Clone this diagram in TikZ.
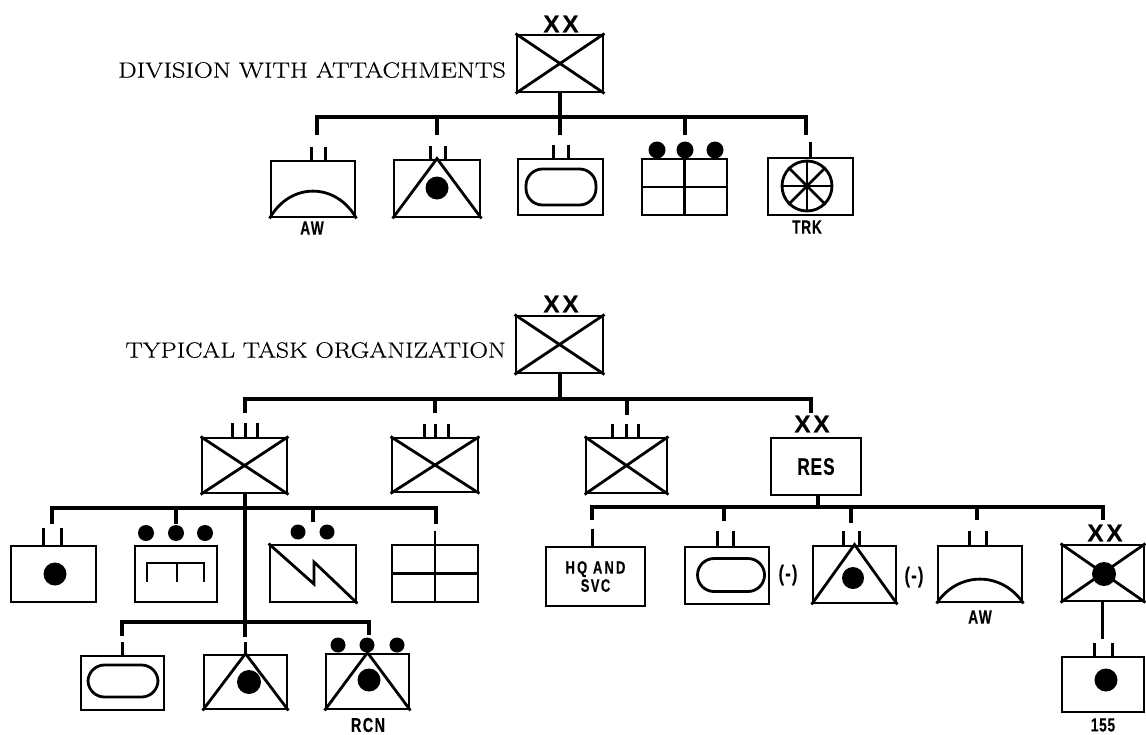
\documentclass[tikz,border=0pt]{standalone}
\usepackage{fontspec}
\newfontfamily\labfont{Liberation Sans}[FakeBold=0.3]
\newfontfamily\ttlfont{Latin Modern Roman}[FakeBold=0.5]
\newcommand\lab[2][19]{\scalebox{.72}[1]{\fontsize{#1}{#1}\selectfont\labfont\bfseries #2}}
\newcommand\ttl[2]{\scalebox{#1}[1]{\fontsize{22}{24}\selectfont\ttlfont #2}}
\tikzset{
  ubox/.style={draw,line width=2.9pt,inner sep=0pt,fill=white},
  sym/.style={line width=2.8pt},
  tick/.style={line width=3pt},
  bus/.style={line width=4pt,line join=miter},
  pill/.style={draw,line width=2.8pt,rounded corners=16.5pt,inner sep=0pt},
  spot/.style={circle,fill=black,inner sep=0pt},
  title/.style={inner sep=0pt,anchor=east},
  echelon/.style={inner sep=0pt,font=\fontsize{24}{24}\selectfont\labfont\bfseries},
  tag/.style={inner sep=0pt}
}
\newcommand\ubx[5]{\node[ubox,minimum width={(#4-#2)*1pt},minimum height={(#5-#3)*1pt}] (#1) at ({(#2+#4)/2},{(#3+#5)/2}) {};}
\newcommand\crossx[1]{\draw[sym] (#1.north west) -- (#1.south east) (#1.north east) -- (#1.south west);}
\newcommand\tri[1]{\draw[sym] (#1.south west) -- (#1.north) -- (#1.south east);}
\newcommand\grid[1]{\draw[sym] (#1.west) -- (#1.east);}
\newcommand\tk[3]{\draw[tick] (#1.north) ++(#2,0) -- ++(0,-#3);}
\newcommand\spotat[3]{\node[spot,minimum size={#3*2pt}] at (#1,#2) {};}
\begin{document}
\begin{tikzpicture}[x=1pt,y=-1pt]
\useasboundingbox (0,0) rectangle (1146,734);
% ---------- top chart
\ubx{div}{517}{35}{603}{92}
\crossx{div}
\node[echelon] (xxa) at (561,24) {X\kern3pt X};
\node[title] (ta) at (506,70) {\ttl{1.19}{DIVISION WITH ATTACHMENTS}};
\coordinate (j0) at (560,117);
\coordinate (a1) at (317,135);
\coordinate (a2) at (437,135);
\coordinate (a3) at (560,135);
\coordinate (a4) at (685,135);
\coordinate (a5) at (806,135);
\draw[bus] (div.south) -- (a3);
\draw[bus] (a1) |- (j0);
\draw[bus] (a2) |- (j0);
\draw[bus] (a4) |- (j0);
\draw[bus] (a5) |- (j0);
% AW
\ubx{t1}{271}{161}{355}{217}
\tk{t1}{-2}{13}\tk{t1}{12}{13}
\draw[sym] (t1.south west) .. controls (290,182) and (336,182) .. (t1.south east);
\node[tag] (t1l) at (312,228) {\lab{A\kern1pt W}};
% mech inf
\ubx{t2}{394}{160}{480}{217}
\tk{t2}{-7}{13}\tk{t2}{8}{13}
\tri{t2}
\spotat{437}{188}{11.5}
% armor
\ubx{t3}{518}{159}{603}{215}
\tk{t3}{-7}{13}\tk{t3}{8}{13}
\node[pill,minimum width=70pt,minimum height=36pt] (t3i) at (561,187) {};
% grid
\ubx{t4}{642}{159}{727}{215}
\grid{t4}
\draw[sym] (t4.north) -- (t4.south);
\spotat{657}{150}{8.5}\spotat{685}{150}{8.5}\spotat{715}{150}{8.5}
% truck
\ubx{t5}{768}{158}{853}{215}
\draw[tick] (t5.north) -- ++(0,-15);
\node[draw,circle,line width=2.8pt,minimum size=50pt,inner sep=0pt] (wh) at (807,186) {};
\foreach \ang in {0,45,...,135}{\draw[line width=2.6pt] (wh.\ang) -- (wh.{\ang+180});}
\node[tag] (t5l) at (807,227) {\lab{T\kern1pt R\kern1pt K}};
% ---------- lower chart
\ubx{dvb}{516}{316}{603}{373}
\crossx{dvb}
\node[echelon] (xxb) at (561,304) {X\kern3pt X};
\node[title] (tb) at (506,350) {\ttl{1.17}{TYPICAL TASK ORGANIZATION}};
\coordinate (j1) at (560,399);
\coordinate (b1) at (245,413);
\coordinate (b2) at (435,413);
\coordinate (b3) at (627,415);
\coordinate (b4) at (811,413);
\draw[bus] (dvb.south -| j1) -- (j1);
\draw[bus] (b1) |- (j1);
\draw[bus] (b2) |- (j1);
\draw[bus] (b3) |- (j1);
\draw[bus] (b4) |- (j1);
% brigades
\ubx{bA}{202}{438}{287}{493}\crossx{bA}
\tk{bA}{-12}{14}\tk{bA}{1}{14}\tk{bA}{13}{14}
\ubx{bB}{392}{438}{478}{492}\crossx{bB}
\tk{bB}{-11}{13}\tk{bB}{0}{13}\tk{bB}{13}{13}
\ubx{bC}{586}{438}{667}{493}\crossx{bC}
\tk{bC}{-14}{13}\tk{bC}{0}{13}\tk{bC}{12}{13}
\ubx{res}{771}{438}{861}{495}
\node[tag] (resl) at (res.center) {\lab[24]{R\kern1pt E\kern1.5pt S}};
\node[echelon] (xxc) at (812,424) {X\kern3pt X};
% group under brigade A
\coordinate (j2) at (245,508);
\coordinate (j3) at (245,622);
\coordinate (c1) at (52,524);
\coordinate (c2) at (176,524);
\coordinate (c3) at (313,522);
\coordinate (c4) at (436,524);
\coordinate (e1) at (122,636);
\coordinate (e2) at (245,637);
\coordinate (e3) at (369,635);
\draw[bus] (bA.south -| e2) -- (e2);
\draw[bus] (c1) |- (j2);
\draw[bus] (c2) |- (j2);
\draw[bus] (c3) |- (j2);
\draw[bus] (c4) |- (j2);
\draw[bus] (e1) |- (j3);
\draw[bus] (e3) |- (j3);
% row 2
\ubx{r1}{11}{546}{96}{602}
\tk{r1}{-10}{17}\tk{r1}{8}{17}
\spotat{55}{574}{11.5}
\ubx{r2}{135}{546}{217}{602}
\spotat{146}{533}{8}\spotat{176}{533}{8}\spotat{205}{533}{8}
\draw[sym] (147,582) -- (147,563) -- (204,563) -- (204,582) (177,563) -- (177,582);
\ubx{r3}{270}{545}{356}{602}
\spotat{298}{532}{7.5}\spotat{327}{532}{7.5}
\draw[sym] (r3.north west) -- (314,584) -- (314,562) -- (r3.south east);
\ubx{r4}{392}{545}{478}{602}
\grid{r4}
\draw[sym] (r4.south) -- ++(0,-72);
% row 3
\ubx{s1}{81}{656}{164}{710}
\draw[tick] (s1.north) -- ++(0,-13);
\node[pill,minimum width=70pt,minimum height=32pt] (s1i) at (123,681) {};
\ubx{s2}{204}{655}{287}{709}
\draw[tick] (s2.north) -- ++(0,-12);
\tri{s2}
\spotat{249}{682}{12}
\ubx{s3}{326}{654}{409}{709}
\tri{s3}
\spotat{338}{645}{7.5}\spotat{367}{645}{7.5}\spotat{397}{645}{7.5}
\spotat{369}{680}{11.5}
\node[tag] (s3l) at (368,725) {\lab[20]{R\kern2pt C\kern2pt N}};
% reserve group
\coordinate (j4) at (818,507);
\coordinate (f1) at (592,520);
\coordinate (f2) at (724,521);
\coordinate (f3) at (851,523);
\coordinate (f4) at (977,520);
\coordinate (f5) at (1103,520);
\draw[bus] (res.south -| j4) -- (j4);
\draw[bus] (f1) |- (j4);
\draw[bus] (f2) |- (j4);
\draw[bus] (f3) |- (j4);
\draw[bus] (f4) |- (j4);
\draw[bus] (f5) |- (j4);
\ubx{q1}{546}{547}{645}{606}
\draw[tick] (592,529) -- (592,547);
\node[tag,align=center] (q1l) at (q1.center) {\lab[18]{H\kern3pt Q\kern8pt A\kern3pt N\kern3pt D}\\[1pt]\lab[18]{S\kern2pt V\kern2pt C}};
\ubx{q2}{685}{547}{769}{604}
\tk{q2}{-10}{15}\tk{q2}{6}{15}
\node[pill,minimum width=67pt,minimum height=33pt] (q2i) at (731,575) {};
\node[tag] (q2l) at (788,575) {\lab[22]{(\kern2pt-\kern2pt)}};
\ubx{q3}{813}{546}{896}{603}
\tk{q3}{-11}{14}\tk{q3}{5}{14}
\tri{q3}
\spotat{853}{578}{11}
\node[tag] (q3l) at (914,577) {\lab[22]{(\kern2pt-\kern2pt)}};
\ubx{q4}{938}{546}{1022}{602}
\tk{q4}{-11}{14}\tk{q4}{6}{14}
\draw[sym] (q4.south west) .. controls (958,571) and (1002,571) .. (q4.south east);
\node[tag] (q4l) at (980,617) {\lab{A\kern1pt W}};
\ubx{q5}{1062}{545}{1144}{601}
\crossx{q5}
\spotat{1104}{574}{12}
\node[echelon] (xxd) at (1105,533) {X\kern3pt X};
\coordinate (g1) at (1102,639);
\draw[tick] (q5.south -| g1) -- (g1);
\ubx{q6}{1062}{657}{1144}{712}
\tk{q6}{-9}{13}\tk{q6}{9}{13}
\spotat{1106}{680}{11.5}
\node[tag] (q6l) at (1103,725) {\lab[19]{1\kern1pt 5\kern1pt 5}};
\end{tikzpicture}
\end{document}
